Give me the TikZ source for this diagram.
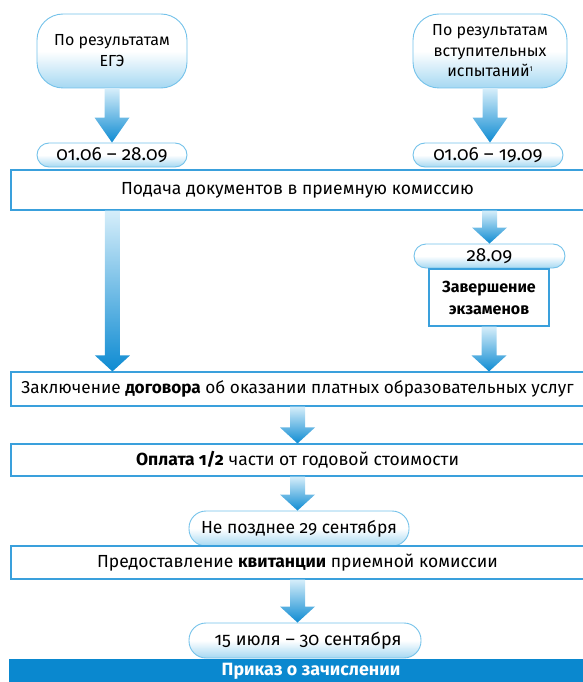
\documentclass[tikz,border=0pt]{standalone}
\usepackage{fontspec}
\setmainfont{Fira Sans}[Numbers=OldStyle]
\usetikzlibrary{calc}
\definecolor{boxline}{HTML}{3AA0DC}
\definecolor{pilltop}{HTML}{FFFFFF}
\definecolor{pillbot}{HTML}{A5D8F2}
\definecolor{pillline}{HTML}{74C2EA}
\definecolor{arrtop}{HTML}{D6EEFA}
\definecolor{arrbot}{HTML}{0E8BD2}
\definecolor{barblue}{HTML}{0A88CF}
\tikzset{
  pill/.style={draw=pillline, line width=0.9pt, rounded corners=#1, top color=pilltop, bottom color=pillbot, middle color=white, inner sep=2pt, align=center, font=\fontsize{17.5}{21}\selectfont},
  pill/.default=12pt,
  wbox/.style={draw=boxline, line width=1.1pt, fill=white, inner sep=2pt, align=center, font=\fontsize{17.5}{21}\selectfont},
  arrfill/.style={top color=arrtop, bottom color=arrbot},
}
\newcommand{\blockarrow}[3]{%
  \path let \p1=#1, \p2=#2 in [arrfill]
   (\x1-7.5pt,\y1) -- (\x1+7.5pt,\y1) -- (\x1+7.5pt,\y2+#3) -- (\x1+17.5pt,\y2+#3)
   -- (\x1,\y2) -- (\x1-17.5pt,\y2+#3) -- (\x1-7.5pt,\y2+#3) -- cycle;}
\begin{document}
\begin{tikzpicture}[x=1pt,y=-1pt]
\useasboundingbox (0,0) rectangle (583,682);
% top pills
\node[pill=26pt, minimum width=150pt, minimum height=74pt, font=\fontsize{16}{21}\selectfont] (ege) at (112,51) {По результатам\\ЕГЭ};
\node[pill=26pt, minimum width=154pt, minimum height=74pt, font=\fontsize{16}{20.5}\selectfont] (vst) at (490,51) {По результатам\\вступительных\\испытаний\raisebox{5pt}{\addfontfeature{Numbers=Lining}\fontsize{7}{7}\selectfont 1}};
\node[pill, minimum width=150pt, minimum height=24pt, font=\fontsize{19}{21}\selectfont] (d1) at (112,155) {01.06 – 28.09};
\node[pill, minimum width=150pt, minimum height=24pt, font=\fontsize{19}{21}\selectfont] (d2) at (488,155) {01.06 – 19.09};
% main boxes
\node[wbox, minimum width=573pt, minimum height=40pt] (pod) at (297.5,190) {Подача документов в приемную комиссию};
\node[pill, minimum width=151pt, minimum height=24pt, font=\fontsize{19}{21}\selectfont] (d3) at (489.5,256) {28.09};
\node[wbox, minimum width=120pt, minimum height=57pt, font=\fontsize{16}{22}\bfseries] (zav) at (489,297.5) {Завершение\\экзаменов};
\node[wbox, minimum width=573pt, minimum height=34pt, font=\fontsize{17.2}{21}\selectfont] (zak) at (297.5,389) {Заключение \textbf{договора} об оказании платных образовательных услуг};
\node[wbox, minimum width=573pt, minimum height=32pt] (opl) at (297.5,460) {\textbf{Оплата 1/2} части от годовой стоимости};
\node[pill=17pt, minimum width=220pt, minimum height=35pt] (p3) at (299,528.5) {Не позднее 29 сентября};
\node[wbox, minimum width=573pt, minimum height=33pt] (pre) at (297.5,562.5) {Предоставление \textbf{квитанции} приемной комиссии};
\node[pill=17pt, minimum width=232pt, minimum height=35pt, font=\fontsize{18}{21}\selectfont] (p4) at (305,640.5) {\hspace*{6pt}15 июля – 30 сентября};
\node[fill=barblue, minimum width=575pt, minimum height=24pt, inner sep=0pt, text=white, font=\fontsize{17.8}{20}\bfseries\selectfont] (bar) at (296.5,671) {\hspace*{29pt}Приказ о зачислении};
% block arrows
\blockarrow{(ege.south)}{(d1.north)}{25pt}
\blockarrow{(vst.south)}{(vst.south |- d2.north)}{25pt}
\blockarrow{($(pod.south west)+(102,0)$)}{($(zak.north west)+(102,0)$)}{16pt}
\blockarrow{(pod.south -| d3.north)}{(d3.north)}{16pt}
\blockarrow{(zav.south)}{(zav.south |- zak.north)}{16pt}
\blockarrow{(zak.south)}{(opl.north)}{16pt}
\blockarrow{(opl.south)}{(opl.south |- p3.north)}{16pt}
\blockarrow{(pre.south)}{(pre.south |- p4.north)}{16pt}
\end{tikzpicture}
\end{document}
